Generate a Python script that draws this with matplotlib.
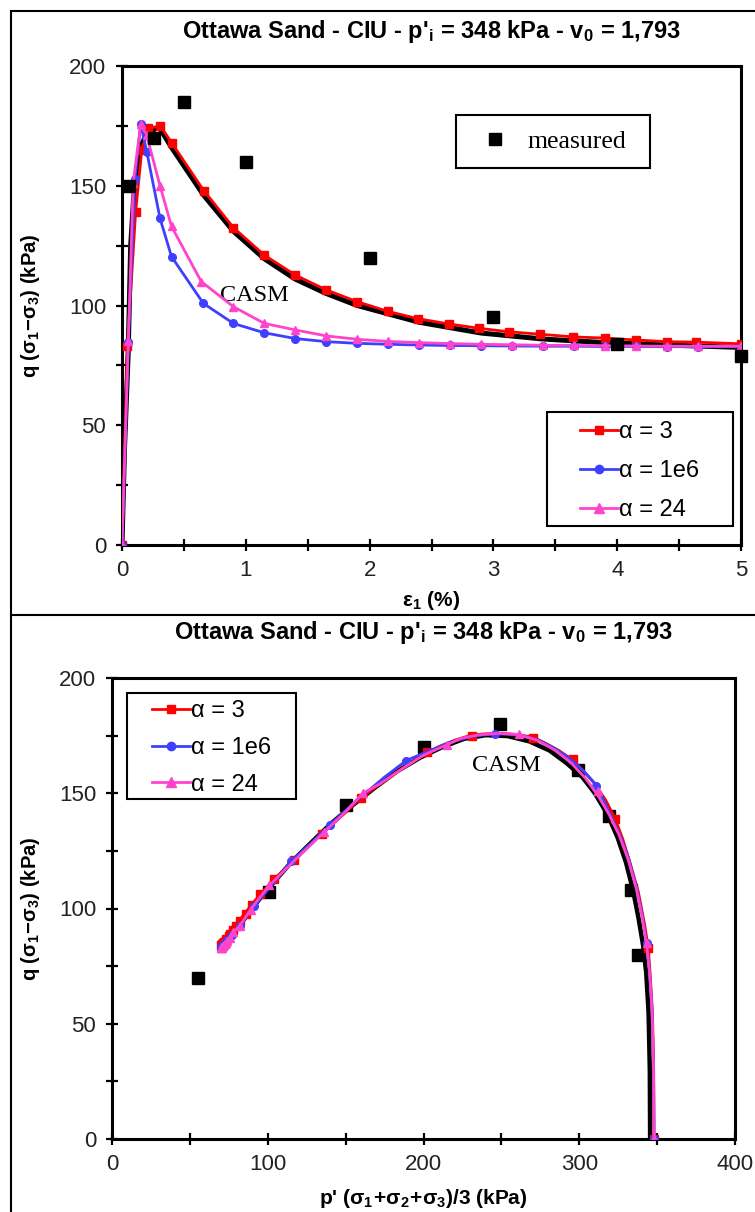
import matplotlib
matplotlib.use("Agg")
import matplotlib.pyplot as plt
from matplotlib.lines import Line2D
from matplotlib.patches import Rectangle
from matplotlib.ticker import MultipleLocator

plt.rcParams['font.family'] = ['Liberation Sans', 'DejaVu Sans']
plt.rcParams['mathtext.fontset'] = 'stix'

# ---- measured data (Ottawa sand, CIU, p'i = 348 kPa) ----
meas_eps = [0.06, 0.26, 0.5, 1.0, 2.0, 3.0, 4.0, 5.0]
meas_q_eps = [150, 170, 185, 160, 120, 95, 84, 79]
meas_p = [55, 101, 150, 200, 249, 299, 319, 333, 338]
meas_q_p = [70, 107, 145, 170, 180, 160, 140, 108, 80]

# ---- CASM reference run ----
casm_eps = [0, 0.02, 0.05, 0.07, 0.1, 0.15, 0.2, 0.3, 0.4, 0.66, 0.9, 1.15, 1.4,
            1.65, 1.9, 2.4, 2.9, 3.4, 3.9, 4.4, 5.0]
casm_q = [0, 40, 80, 125, 150, 166, 172, 174.5, 166, 146, 131, 119.5, 111,
          105, 100, 93, 88.5, 86, 84.5, 83.5, 82.5]
casm_path_p = [345.5, 345.3, 344.5, 343, 341, 338, 334.5, 330, 324.5, 318, 310, 302, 292,
               281, 268, 254, 240, 226, 212, 198, 183, 168, 154, 140, 127, 115, 104,
               94, 85, 78, 73, 70]
casm_path_q = [0, 30, 55, 72, 84, 96, 108, 120, 131, 141, 150, 157, 163,
               168.5, 172.5, 174.8, 175.2, 173.6, 170, 165.5, 159.5, 152, 144.5, 136.5, 128, 120, 111.5,
               103.5, 95.5, 89.5, 85.5, 83]

# ---- alpha = 3 : markers (shared by both panels) ----
a3_eps = [0, 0.043, 0.11, 0.16, 0.21, 0.31, 0.40, 0.66, 0.90, 1.15, 1.40, 1.65,
          1.90, 2.15, 2.39, 2.64, 2.88, 3.13, 3.38, 3.64, 3.90, 4.15, 4.40, 4.64, 5.0]
a3_q = [0, 83, 139, 165, 174, 175, 168, 148, 132.5, 121, 112.7, 106.5, 101.6,
        97.5, 94.5, 92.3, 90.5, 89, 88, 86.9, 86.4, 85.6, 84.9, 84.7, 84]
a3_p = [348, 344.3, 323, 296, 270.5, 231, 202, 160, 135, 117, 104, 95, 90,
        86, 82, 79.5, 77.5, 76, 75, 73.5, 73, 72, 71, 70.5, 70]
# stress path trace
a3_path_p = [348, 347.8, 347, 345.5, 344.3, 342, 338, 333, 328, 323, 317, 310, 303,
             296, 287, 279, 270.5, 260, 250, 240, 231, 220, 210, 202, 190, 175, 160,
             148, 135, 125, 117, 110, 104, 97, 90, 86, 82, 78, 75, 72, 70]
a3_path_q = [0, 30, 55, 72, 82.8, 93, 107, 119, 130, 139, 147, 154, 159.5,
             164.4, 168.5, 171.5, 174.3, 175.5, 176, 175.8, 175.3, 173, 170.3, 167.3, 162.5, 155.5, 148,
             140.5, 132.5, 126.5, 121, 116.5, 112.7, 107.5, 102, 98.5, 95, 91.5, 88.5, 85.5, 84]

# ---- alpha = 1e6 ----
a6_eps = [0, 0.051, 0.105, 0.151, 0.20, 0.307, 0.40, 0.657, 0.90, 1.15, 1.40,
          1.65, 1.90, 2.15, 2.40, 2.65, 2.90, 3.15, 3.40, 3.65, 3.90, 4.15, 4.40, 4.65, 5.0]
a6_q = [0, 84.9, 153, 175.8, 164.2, 136.4, 120.4, 100.9, 92.5, 88.6, 86.2,
        84.9, 84.2, 83.8, 83.5, 83.3, 83.2, 83.1, 83.0, 83.0, 82.9, 82.9, 82.8, 82.8, 82.8]
a6_p = [348, 343.3, 311, 246, 189, 140, 115, 91, 82, 77, 74,
        72.5, 71.5, 71, 70.7, 70.5, 70.4, 70.3, 70.2, 70.2, 70.1, 70.1, 70, 70, 70]
a6_path_p = [348, 347.7, 346.8, 345.2, 343.3, 340.5, 336.5, 331.5, 326, 319, 311, 303,
             294, 284, 274, 262, 246, 232, 218, 204, 189, 175, 160, 150, 140, 128, 115,
             103, 91, 82, 77, 74, 72.5, 71, 70]
a6_path_q = [0, 30, 55, 72, 84.9, 97, 110, 122, 132, 142, 153.6, 159.5,
             165, 169.5, 173, 175.3, 175.8, 174.8, 172.3, 168.5, 164.2, 157, 148.5, 142.5, 136.4, 128.5, 120.4,
             110.5, 100.9, 92.5, 88.6, 86.2, 84.9, 83.8, 82.8]

# ---- alpha = 24 ----
a24_eps = [0, 0.051, 0.09, 0.151, 0.20, 0.307, 0.40, 0.64, 0.90, 1.15, 1.40,
           1.65, 1.90, 2.15, 2.40, 2.65, 2.90, 3.15, 3.40, 3.65, 3.90, 4.15, 4.40, 4.65, 5.0]
a24_q = [0, 85, 151, 175.8, 171, 150, 133, 110, 99.5, 92.5, 89.8,
         87.3, 85.9, 85, 84.5, 84.1, 83.8, 83.6, 83.4, 83.3, 83.2, 83.1, 83.0, 83.0, 83.0]
a24_p = [348, 343.3, 312, 261, 215, 161, 136, 101, 89, 82, 78,
         75.5, 74, 73, 72.3, 71.8, 71.4, 71.1, 70.9, 70.7, 70.6, 70.5, 70.4, 70.3, 70.2]
a24_path_p = [348, 347.7, 346.8, 345.2, 343.3, 340.5, 336.5, 331.5, 325.5, 319, 312, 304,
              295, 285, 273, 261, 248, 235, 224, 215, 200, 185, 172, 161, 150, 136, 122,
              110, 101, 94, 89, 82, 78, 75.5, 73, 70.2]
a24_path_q = [0, 30, 55, 72, 84, 96, 109, 121, 132, 141, 149, 156.5,
              163, 168.5, 173, 175.5, 176, 175.3, 173.8, 171, 166.5, 160, 154, 150, 142, 133, 124,
              116, 110, 104, 99.5, 92.5, 89.8, 87.3, 85, 83]

red = '#ff0000'
blue = '#3f3fff'
pink = '#ff44cc'

W, H = 755, 1212
fig = plt.figure(figsize=(W / 100, H / 100), dpi=100)

title = "Ottawa Sand - CIU - p'$_\\mathregular{i}$ = 348 kPa - v$_\\mathregular{0}$ = 1,793"
ylab = r"q ($\mathregular{\sigma_1\!-\!\sigma_3}$) (kPa)"
labels = ['α = 3', 'α = 1e6', 'α = 24']


def fx(px):
    return px / W


def fy(py):
    return 1 - py / H


def frame_box(ax, x0, y0, x1, y1):
    # plain rectangular legend frame, given in figure pixels
    ax.add_patch(Rectangle((fx(x0), fy(y1)), fx(x1) - fx(x0), fy(y0) - fy(y1),
                           transform=fig.transFigure, facecolor='white',
                           edgecolor='black', lw=1.5, zorder=8, clip_on=False))


def style_axes(ax):
    for s in ax.spines.values():
        s.set_linewidth(2.2)
    ax.tick_params(which='both', direction='inout', length=9, width=1.6,
                   labelsize=16, colors='black', labelcolor='#222222')
    ax.tick_params(axis='x', pad=6)
    ax.tick_params(axis='y', pad=7)


def legend_handles():
    return [Line2D([], [], color=red, marker='s', ms=6, lw=2),
            Line2D([], [], color=blue, marker='o', ms=6, lw=2),
            Line2D([], [], color=pink, marker='^', ms=6.5, lw=2)]


def alpha_legend(ax, box, spacing):
    x0, y0, x1, y1 = box
    frame_box(ax, x0, y0, x1, y1)
    leg = ax.legend(legend_handles(), labels, loc='center',
                    bbox_to_anchor=(fx((x0 + x1) / 2), fy((y0 + y1) / 2 + 2)),
                    bbox_transform=fig.transFigure, fontsize=17, frameon=False,
                    handlelength=1.6, handletextpad=0.05, labelspacing=spacing,
                    borderpad=0, borderaxespad=0)
    leg.set_zorder(10)
    return leg


# ----- strain panel -----
ax1 = fig.add_axes([fx(122), fy(545), 619 / W, 479 / H])
ax1.plot(casm_eps, casm_q, color='black', lw=3.6, zorder=2)
ax1.plot(a3_eps, a3_q, color=red, marker='s', ms=5.5, lw=2, zorder=3)
ax1.plot(a6_eps, a6_q, color=blue, marker='o', ms=5.5, lw=2, zorder=4)
ax1.plot(a24_eps, a24_q, color=pink, marker='^', ms=6, lw=2, zorder=5)
ax1.plot(meas_eps, meas_q_eps, 's', color='black', ms=9, clip_on=False, zorder=6)
ax1.set_xlim(0, 5)
ax1.set_ylim(0, 200)
ax1.xaxis.set_major_locator(MultipleLocator(1))
ax1.xaxis.set_minor_locator(MultipleLocator(0.5))
ax1.yaxis.set_major_locator(MultipleLocator(50))
ax1.yaxis.set_minor_locator(MultipleLocator(25))
style_axes(ax1)
ax1.set_title(title, fontsize=17, fontweight='bold', pad=20)
ax1.set_xlabel(r"$\mathregular{\varepsilon_1}$ (%)", fontsize=15, fontweight='bold', labelpad=6)
ax1.set_ylabel(ylab, fontsize=14.5, fontweight='bold', labelpad=19)
ax1.text(1.07, 104, 'CASM', family='Liberation Serif', fontsize=17.5, ha='center', va='center')

leg_a = alpha_legend(ax1, (547, 412, 733, 526), 0.72)
ax1.add_artist(leg_a)

frame_box(ax1, 456, 115, 650, 168)
meas_handle = Line2D([], [], marker='s', color='black', ls='none', ms=8)
leg_m = ax1.legend([meas_handle], ['measured'], loc='center',
                   bbox_to_anchor=(fx(554), fy(141.5)), bbox_transform=fig.transFigure,
                   prop={'family': 'Liberation Serif', 'size': 18.5}, frameon=False,
                   handlelength=1.0, handletextpad=0.75, borderpad=0, borderaxespad=0)
leg_m.set_zorder(10)

# ----- stress path panel -----
ax2 = fig.add_axes([fx(112), fy(1139), 623 / W, 461 / H])
ax2.plot(casm_path_p, casm_path_q, color='black', lw=3.2, zorder=2)
ax2.plot(a3_path_p, a3_path_q, color=red, lw=2, zorder=3)
ax2.plot(a3_p, a3_q, 's', color=red, ms=5.5, zorder=3)
ax2.plot(a6_path_p, a6_path_q, color=blue, lw=2, zorder=4)
ax2.plot(a6_p, a6_q, 'o', color=blue, ms=5.5, zorder=4)
ax2.plot(a24_path_p, a24_path_q, color=pink, lw=2, zorder=5)
ax2.plot(a24_p, a24_q, '^', color=pink, ms=6, zorder=5)
ax2.plot(meas_p, meas_q_p, 's', color='black', ms=9, zorder=1)
ax2.set_xlim(0, 400)
ax2.set_ylim(0, 200)
ax2.xaxis.set_major_locator(MultipleLocator(100))
ax2.xaxis.set_minor_locator(MultipleLocator(50))
ax2.yaxis.set_major_locator(MultipleLocator(50))
ax2.yaxis.set_minor_locator(MultipleLocator(25))
style_axes(ax2)
ax2.set_title(title, fontsize=17, fontweight='bold', pad=28)
ax2.set_xlabel(r"p' ($\mathregular{\sigma_1\!+\!\sigma_2\!+\!\sigma_3}$)/3 (kPa)",
               fontsize=15, fontweight='bold', labelpad=9)
ax2.set_ylabel(ylab, fontsize=14.5, fontweight='bold', labelpad=12)
ax2.text(253, 162, 'CASM', family='Liberation Serif', fontsize=17.5, ha='center', va='center')
alpha_legend(ax2, (127, 693, 296, 799), 0.62)

# figure frame and panel separator
for xs, ys in [([11, 11], [11, H]), ([11, W], [11, 11]), ([11, W], [615, 615])]:
    fig.add_artist(Line2D([fx(x) for x in xs], [fy(y) for y in ys],
                          transform=fig.transFigure, color='black', lw=1.5))

fig.savefig('out.png', dpi=100)
